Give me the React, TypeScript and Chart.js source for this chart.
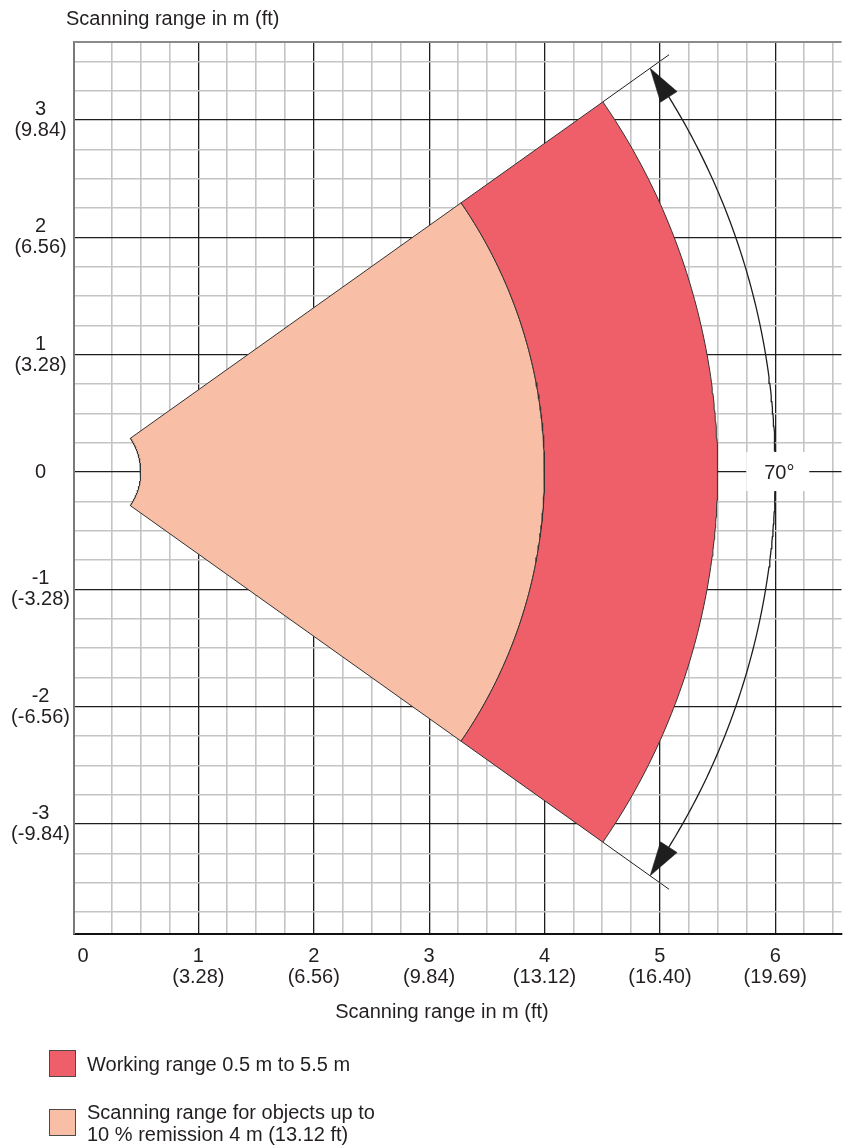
import React, { useEffect, useRef } from 'react';
import { Chart, registerables } from 'chart.js';

Chart.register(...registerables);

const FONT = "'Liberation Sans', Arial, sans-serif";
const TEXT = '#231f20';

// ---- axis ranges (metres) ----
const xMin = -0.078;
const xMax = 6.574;
const yMin = -3.9375;
const yMax = 3.665;
const gridStep = 0.25;

// ---- tick labels ----
const xTickValues = [0, 1, 2, 3, 4, 5, 6];
const xTickLabels: (string | string[])[] = [
  '0',
  ['1', '(3.28)'],
  ['2', '(6.56)'],
  ['3', '(9.84)'],
  ['4', '(13.12)'],
  ['5', '(16.40)'],
  ['6', '(19.69)'],
];
const yTickValues = [-3, -2, -1, 0, 1, 2, 3];
const yTickLabels: (string | string[])[] = [
  ['-3', '(-9.84)'],
  ['-2', '(-6.56)'],
  ['-1', '(-3.28)'],
  '0',
  ['1', '(3.28)'],
  ['2', '(6.56)'],
  ['3', '(9.84)'],
];
const axisTitle = 'Scanning range in m (ft)';

// ---- field values ----
const openingAngle = 70; // degrees
const innerRadius = 0.5; // m
const scanRadius = 4; // m (10 % remission)
const workRadius = 5.5; // m
const dimensionRadius = 6; // m, dimension arc
const extensionRadius = 6.2; // m, extension lines
const angleLabel = '70°';

const seriesNames = [
  'Working range 0.5 m to 5.5 m',
  'Scanning range for objects up to\n10 % remission 4 m (13.12 ft)',
];
const seriesColors = ['#ef5f69', '#f9bea6'];

// ---- geometry helpers ----
type P = { x: number; y: number };
const rad = (d: number) => (d * Math.PI) / 180;
const polar = (r: number, deg: number): P => ({ x: r * Math.cos(rad(deg)), y: r * Math.sin(rad(deg)) });
const arc = (r: number, from: number, to: number, step = 0.5): P[] => {
  const pts: P[] = [];
  const n = Math.max(1, Math.ceil(Math.abs(to - from) / step));
  for (let i = 0; i <= n; i++) pts.push(polar(r, from + ((to - from) * i) / n));
  return pts;
};
const sector = (rIn: number, rOut: number, half: number): P[] => {
  const pts = [...arc(rOut, -half, half), ...arc(rIn, half, -half)];
  pts.push(pts[0]);
  return pts;
};
const half = openingAngle / 2;
const arrowLenDeg = 2.8;
const arrowHalfWidth = 0.085;
const arrowHead = (sign: number): P[] => {
  const tip = polar(dimensionRadius, sign * half);
  const a = sign * (half - arrowLenDeg);
  return [tip, polar(dimensionRadius + arrowHalfWidth, a), polar(dimensionRadius - arrowHalfWidth, a), tip];
};
const gridValues = (lo: number, hi: number): number[] => {
  const out: number[] = [];
  const start = Math.ceil(lo / gridStep) * gridStep;
  for (let v = start; v <= hi + 1e-9; v += gridStep) out.push(Math.round(v * 1000) / 1000);
  return out;
};
const isMajor = (v: number) => Math.abs(v - Math.round(v)) < 1e-6;
const findLabel = (vals: number[], labels: (string | string[])[], v: number) => {
  const i = vals.findIndex((t) => Math.abs(t - v) < 1e-6);
  return i >= 0 ? labels[i] : '';
};

const overlayPlugin = {
  id: 'overlay',
  afterDatasetsDraw(chart: any) {
    const { ctx, chartArea, scales } = chart;
    const xs = scales.x;
    const ys = scales.y;
    ctx.save();
    ctx.strokeStyle = '#8a8a8a';
    ctx.lineWidth = 2;
    ctx.beginPath();
    ctx.moveTo(chartArea.left, chartArea.top);
    ctx.lineTo(chartArea.right, chartArea.top);
    ctx.stroke();
    const cx = xs.getPixelForValue(dimensionRadius) + 2;
    const cy = ys.getPixelForValue(0);
    ctx.fillStyle = '#ffffff';
    ctx.fillRect(cx - 31, cy - 20, 63, 39);
    ctx.fillStyle = TEXT;
    ctx.font = `20px ${FONT}`;
    ctx.textAlign = 'center';
    ctx.textBaseline = 'middle';
    ctx.fillText(angleLabel, cx + 2, cy + 1);
    ctx.restore();
  },
};

export default function App() {
  const ref = useRef<HTMLCanvasElement | null>(null);

  useEffect(() => {
    if (!ref.current) return;
    const lineDs = (data: P[], extra: any = {}) => ({
      data,
      showLine: true,
      pointRadius: 0,
      pointHoverRadius: 0,
      tension: 0,
      fill: false,
      borderColor: '#1e1e1e',
      borderWidth: 1.2,
      ...extra,
    });
    const gridColor = (ctx: any, hideZero: boolean) => {
      const v = ctx.tick ? ctx.tick.value : NaN;
      if (hideZero && Math.abs(v) < 1e-6) return 'rgba(0,0,0,0)';
      return isMajor(v) ? '#1e1e1e' : '#c4c4c4';
    };
    const gridWidth = (ctx: any) => {
      const v = ctx.tick ? ctx.tick.value : NaN;
      return isMajor(v) ? 1.3 : 1.6;
    };
    const tickFont = { family: FONT, size: 20, lineHeight: 1.05 };

    const chart = new Chart(ref.current, {
      type: 'scatter',
      data: {
        datasets: [
          lineDs(sector(scanRadius, workRadius, half), {
            label: seriesNames[0],
            fill: 'shape',
            backgroundColor: seriesColors[0],
            borderColor: '#333333',
            borderWidth: 1,
          }),
          lineDs(sector(innerRadius, scanRadius, half), {
            label: seriesNames[1],
            fill: 'shape',
            backgroundColor: seriesColors[1],
            borderColor: '#333333',
            borderWidth: 1,
          }),
          lineDs([polar(workRadius, half), polar(extensionRadius, half)], { borderWidth: 1 }),
          lineDs([polar(workRadius, -half), polar(extensionRadius, -half)], { borderWidth: 1 }),
          lineDs(arc(dimensionRadius, -half + arrowLenDeg, half - arrowLenDeg), { borderWidth: 1.3 }),
          lineDs(arrowHead(1), { fill: 'shape', backgroundColor: '#1e1e1e', borderWidth: 0.5 }),
          lineDs(arrowHead(-1), { fill: 'shape', backgroundColor: '#1e1e1e', borderWidth: 0.5 }),
        ],
      },
      options: {
        responsive: false,
        maintainAspectRatio: false,
        devicePixelRatio: 1,
        animation: false,
        events: [],
        layout: { padding: { top: 42, left: 0, right: 0, bottom: 0 } },
        plugins: {
          legend: { display: false },
          tooltip: { enabled: false },
          title: { display: false },
        },
        scales: {
          x: {
            type: 'linear',
            position: 'bottom',
            min: xMin,
            max: xMax,
            afterBuildTicks: (s: any) => {
              s.ticks = gridValues(0, xMax).map((v) => ({ value: v }));
            },
            afterFit: (s: any) => {
              s.height = 213;
            },
            ticks: {
              autoSkip: false,
              maxRotation: 0,
              minRotation: 0,
              padding: 12,
              color: TEXT,
              font: tickFont,
              callback: (v: any) => findLabel(xTickValues, xTickLabels, Number(v)),
            },
            grid: {
              drawTicks: false,
              color: (c: any) => gridColor(c, true),
              lineWidth: gridWidth,
            },
            border: { display: true, color: '#111111', width: 2 },
          },
          y: {
            type: 'linear',
            position: 'left',
            min: yMin,
            max: yMax,
            afterBuildTicks: (s: any) => {
              s.ticks = gridValues(yMin, yMax).map((v) => ({ value: v }));
            },
            afterFit: (s: any) => {
              s.width = 74;
            },
            ticks: {
              autoSkip: false,
              crossAlign: 'center',
              padding: 4,
              color: TEXT,
              font: tickFont,
              callback: (v: any) => findLabel(yTickValues, yTickLabels, Number(v)),
            },
            grid: {
              drawTicks: false,
              color: (c: any) => gridColor(c, false),
              lineWidth: gridWidth,
            },
            border: { display: true, color: '#7a7a7a', width: 2 },
          },
        },
      } as any,
      plugins: [overlayPlugin],
    });
    return () => chart.destroy();
  }, []);

  const textStyle: React.CSSProperties = {
    position: 'absolute',
    fontFamily: FONT,
    fontSize: 20,
    lineHeight: '20px',
    color: TEXT,
    whiteSpace: 'nowrap',
  };
  const box = (top: number, color: string): React.CSSProperties => ({
    position: 'absolute',
    left: 49,
    top,
    width: 27,
    height: 27,
    boxSizing: 'border-box',
    border: '1px solid #4a4a4a',
    background: color,
  });

  return (
    <div style={{ position: 'absolute', left: 0, top: 0, width: 845, height: 1147, background: '#fff', overflow: 'hidden' }}>
      <canvas ref={ref} width={845} height={1147} style={{ display: 'block', width: 845, height: 1147 }} />
      <div style={{ ...textStyle, left: 66, top: 8 }}>{axisTitle}</div>
      <div style={{ ...textStyle, left: 442, top: 1001, transform: 'translateX(-50%)' }}>{axisTitle}</div>
      <div style={box(1050, seriesColors[0])} />
      <div style={{ ...textStyle, left: 87, top: 1054 }}>{seriesNames[0]}</div>
      <div style={box(1109, seriesColors[1])} />
      <div style={{ ...textStyle, left: 87, top: 1102, lineHeight: '21.5px', whiteSpace: 'pre' }}>{seriesNames[1]}</div>
    </div>
  );
}
